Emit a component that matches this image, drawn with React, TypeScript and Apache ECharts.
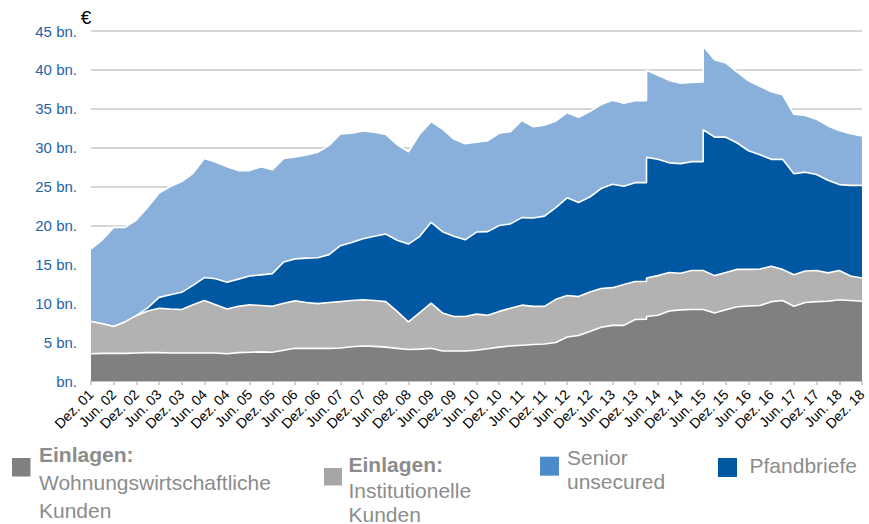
import { useEffect, useRef } from "react";
import * as echarts from "echarts";

const tickLabels = [
  "Dez. 01", "Jun. 02", "Dez. 02", "Jun. 03", "Dez. 03", "Jun. 04", "Dez. 04",
  "Jun. 05", "Dez. 05", "Jun. 06", "Dez. 06", "Jun. 07", "Dez. 07", "Jun. 08",
  "Dez. 08", "Jun. 09", "Dez. 09", "Jun. 10", "Dez. 10", "Jun. 11", "Dez. 11",
  "Jun. 12", "Dez. 12", "Jun. 13", "Dez. 13", "Jun. 14", "Dez. 14", "Jun. 15",
  "Dez. 15", "Jun. 16", "Dez. 16", "Jun. 17", "Dez. 17", "Jun. 18", "Dez. 18",
];

// quarter index since Dez. 01 (two points at the same quarter = jump)
const xQuarter = [
  0, 1, 2, 3, 4, 5, 6, 7, 8, 9,
  10, 11, 12, 13, 14, 15, 16, 17, 18, 19,
  20, 21, 22, 23, 24, 25, 26, 27, 28, 29,
  30, 31, 32, 33, 34, 35, 36, 37, 38, 39,
  40, 41, 42, 43, 44, 45, 46, 47, 48,
  49, 49,
  50, 51, 52, 53,
  54, 54,
  55, 56, 57, 58, 59, 60, 61, 62, 63, 64, 65, 66, 67, 68,
];

const wohnung = [
  3.5, 3.55, 3.55, 3.55, 3.6, 3.65, 3.65, 3.6, 3.6, 3.6,
  3.6, 3.6, 3.5, 3.65, 3.7, 3.75, 3.7, 3.95, 4.2, 4.2,
  4.2, 4.2, 4.25, 4.4, 4.5, 4.45, 4.35, 4.2, 4.05, 4.1,
  4.2, 3.85, 3.85, 3.85, 3.95, 4.15, 4.35, 4.5, 4.6, 4.7,
  4.75, 4.95, 5.65, 5.85, 6.35, 6.9, 7.15, 7.15, 7.9,
  7.95, 8.3,
  8.45, 9.0, 9.15, 9.2,
  9.2, 9.2,
  8.75, 9.15, 9.55, 9.65, 9.7, 10.2, 10.35, 9.6, 10.1, 10.2, 10.25, 10.45, 10.35, 10.25,
];

const institutionell = [
  4.15, 3.8, 3.45, 4.05, 4.8, 5.35, 5.7, 5.65, 5.6, 6.2,
  6.75, 6.2, 5.75, 5.95, 6.1, 5.95, 5.9, 6.05, 6.1, 5.9,
  5.75, 5.9, 5.95, 5.95, 5.95, 5.9, 5.85, 4.75, 3.55, 4.7,
  5.8, 4.9, 4.45, 4.45, 4.65, 4.3, 4.6, 4.85, 5.15, 4.9,
  4.85, 5.55, 5.35, 5.0, 5.1, 5.0, 4.85, 5.25, 4.9,
  4.85, 4.95,
  5.1, 4.95, 4.7, 5.0,
  5.0, 5.0,
  4.8, 4.8, 4.8, 4.7, 4.7, 4.55, 4.0, 4.05, 4.05, 4.0, 3.65, 3.75, 3.15, 3.0,
];

const pfandbriefe = [
  0, 0, 0, 0, 0, 0.4, 1.4, 1.85, 2.2, 2.5,
  2.95, 3.35, 3.45, 3.5, 3.7, 3.95, 4.2, 5.3, 5.4, 5.7,
  5.9, 6.15, 7.2, 7.45, 7.85, 8.25, 8.7, 9.15, 10.0, 9.8,
  10.4, 10.45, 10.3, 9.85, 10.55, 10.75, 11.05, 10.85, 11.25, 11.35,
  11.6, 11.8, 12.55, 12.1, 12.2, 12.85, 13.3, 12.65, 12.7,
  12.7, 15.5,
  14.95, 14.1, 14.1, 14.0,
  14.0, 18.1,
  17.8, 17.4, 16.25, 15.25, 14.7, 13.75, 14.15, 13.0, 12.7, 12.35, 11.9, 11.05, 11.65, 11.9,
];

const senior = [
  9.35, 10.8, 12.75, 12.15, 12.3, 12.95, 13.4, 13.9, 14.25, 14.4,
  15.3, 15.0, 14.85, 13.95, 13.55, 13.9, 13.35, 13.3, 13.1, 13.25,
  13.55, 14.05, 14.35, 14.05, 13.85, 13.4, 12.8, 12.3, 11.85, 13.15,
  12.95, 13.2, 12.5, 12.35, 11.55, 11.7, 11.85, 11.85, 12.5, 11.75,
  11.7, 11.1, 10.95, 10.95, 11.0, 10.8, 10.8, 10.65, 10.55,
  10.55, 11.2,
  10.8, 10.6, 10.35, 10.2,
  10.25, 10.75,
  9.95, 9.55, 9.1, 9.0, 8.8, 8.7, 8.3, 7.65, 7.3, 7.1, 7.0, 6.95, 6.65, 6.35,
];

const FONT = '"Liberation Sans", Arial, Helvetica, sans-serif';
const LEG = "#8C8C8C";

function legendText(x: number, y: number, text: string, bold = false) {
  return {
    type: "text",
    x,
    y,
    silent: true,
    style: {
      text,
      fontSize: 21,
      fontWeight: bold ? "bold" : "normal",
      fontFamily: FONT,
      fill: LEG,
      textAlign: "left",
      textVerticalAlign: "middle",
      align: "left",
      verticalAlign: "middle",
    },
  };
}

function legendBox(x: number, y: number, w: number, h: number, color: string) {
  return { type: "rect", silent: true, shape: { x, y, width: w, height: h }, style: { fill: color } };
}

export default function App() {
  const ref = useRef<HTMLDivElement>(null);

  useEffect(() => {
    if (!ref.current) return;
    const chart = echarts.init(ref.current, undefined, { renderer: "svg" });

    // cumulative tops of the stacked layers (bottom to top)
    const layers = [wohnung, institutionell, pfandbriefe, senior];
    const cum: number[][] = [];
    layers.forEach((arr, li) => {
      cum.push(arr.map((v, k) => +(v + (li > 0 ? cum[li - 1][k] : 0)).toFixed(3)));
    });

    const mk = (name: string, tops: number[], color: string, z: number) => ({
      name,
      type: "line",
      symbol: "none",
      showSymbol: false,
      z,
      data: xQuarter.map((x, k) => [x, tops[k]]),
      lineStyle: { color: "#ffffff", width: 1.6 },
      itemStyle: { color },
      areaStyle: { color, opacity: 1, origin: "start" },
      emphasis: { disabled: true },
    });

    chart.setOption({
      animation: false,
      backgroundColor: "#ffffff",
      grid: { left: 91, right: 3, top: 31, bottom: 143, containLabel: false },
      xAxis: {
        type: "value",
        min: 0,
        max: 68,
        interval: 2,
        offset: 2,
        axisLine: { show: true, lineStyle: { color: "#BFBFBF", width: 1.5 } },
        axisTick: { show: true, length: 4, lineStyle: { color: "#BFBFBF", width: 1.5 } },
        splitLine: { show: false },
        axisLabel: {
          rotate: 45,
          margin: 9,
          color: "#000000",
          fontSize: 14,
          fontFamily: FONT,
          formatter: (v: number) => tickLabels[Math.round(v / 2)] ?? "",
        },
      },
      yAxis: {
        type: "value",
        min: 0,
        max: 45,
        interval: 5,
        axisLine: { show: false },
        axisTick: { show: false },
        splitLine: { show: true, lineStyle: { color: "#C8C8C8", width: 1.5 } },
        axisLabel: {
          color: "#2463A8",
          fontSize: 15,
          fontFamily: FONT,
          margin: 14,
          formatter: (v: number) => (v === 0 ? "bn." : `${v} bn.`),
        },
      },
      series: [
        mk("Senior unsecured", cum[3], "#88B0DB", 2),
        mk("Pfandbriefe", cum[2], "#0057A2", 3),
        mk("Einlagen: Institutionelle Kunden", cum[1], "#B2B2B2", 4),
        mk("Einlagen: Wohnungswirtschaftliche Kunden", cum[0], "#808080", 5),
      ],
      graphic: [
        {
          type: "text",
          x: 86,
          y: 17,
          silent: true,
          style: {
            text: "€",
            fontSize: 19,
            fontFamily: FONT,
            fill: "#000000",
            textAlign: "center",
            textVerticalAlign: "middle",
            align: "center",
            verticalAlign: "middle",
          },
        },
        legendBox(12, 458, 18.5, 18.5, "#808080"),
        legendText(39, 454, "Einlagen:", true),
        legendText(39, 482.5, "Wohnungswirtschaftliche"),
        legendText(39, 510, "Kunden"),
        legendBox(324, 468, 18, 17.5, "#A6A6A6"),
        legendText(348.5, 464, "Einlagen:", true),
        legendText(348.5, 490, "Institutionelle"),
        legendText(348.5, 514, "Kunden"),
        legendBox(540, 456.7, 19, 19, "#4C8BC9"),
        legendText(567, 457.8, "Senior"),
        legendText(567, 481, "unsecured"),
        legendBox(718, 458, 19, 19, "#0057A2"),
        legendText(749.5, 465, "Pfandbriefe"),
      ],
    });

    return () => chart.dispose();
  }, []);

  return (
    <div
      ref={ref}
      style={{ position: "fixed", left: 0, top: 0, width: 869, height: 524, background: "#fff" }}
    />
  );
}
